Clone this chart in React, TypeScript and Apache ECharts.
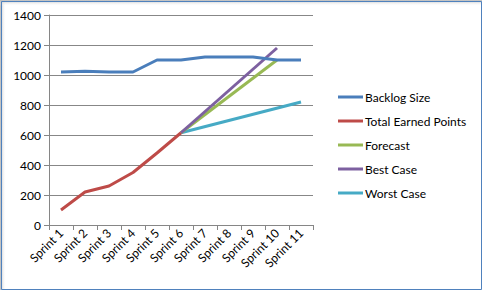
import React, { useEffect, useRef } from "react";
import * as echarts from "echarts";

const categories = ["Sprint 1", "Sprint 2", "Sprint 3", "Sprint 4", "Sprint 5", "Sprint 6", "Sprint 7", "Sprint 8", "Sprint 9", "Sprint 10", "Sprint 11"];
const backlogSize = [1020, 1025, 1020, 1020, 1100, 1100, 1120, 1120, 1120, 1100, 1100];
const totalEarned = [100, 220, 260, 350, 480, 615, null, null, null, null, null];
const forecast = [null, null, null, null, null, 615, null, null, null, 1100, null];
const bestCase = [null, null, null, null, null, 615, null, null, null, 1180, null];
const worstCase = [null, null, null, null, null, 615, null, null, null, null, 820];
const yTicks = { min: 0, max: 1400, interval: 200 };

const FONT = "Lato";

export default function App() {
  const ref = useRef<HTMLDivElement>(null);
  useEffect(() => {
    const chart = echarts.init(ref.current!, null, { renderer: "svg" });
    const mk = (name: string, data: (number | null)[], color: string, z: number) => ({
      name,
      type: "line",
      data,
      connectNulls: true,
      showSymbol: false,
      symbol: "none",
      z,
      lineStyle: { color, width: 3 },
      itemStyle: { color },
    });
    chart.setOption({
      animation: false,
      backgroundColor: "#ffffff",
      textStyle: { fontFamily: FONT },
      grid: { left: 49, right: 178, top: 15, bottom: 79 },
      xAxis: {
        type: "category",
        data: categories,
        boundaryGap: true,
        axisLine: { show: true, lineStyle: { color: "#868686", width: 1 } },
        axisTick: { show: true, length: 5, alignWithLabel: false, lineStyle: { color: "#868686" } },
        axisLabel: { rotate: 45, color: "#000", fontFamily: FONT, fontSize: 12, margin: 6, interval: 0 },
        splitLine: { show: false },
      },
      yAxis: {
        type: "value",
        min: yTicks.min,
        max: yTicks.max,
        interval: yTicks.interval,
        axisLine: { show: true, lineStyle: { color: "#868686", width: 1 } },
        axisTick: { show: true, length: 5, lineStyle: { color: "#868686" } },
        axisLabel: { color: "#000", fontFamily: FONT, fontSize: 12, margin: 8, formatter: (v: number) => String(v) },
        splitLine: { show: true, lineStyle: { color: "#878787", width: 1 } },
      },
      legend: {
        orient: "vertical",
        left: 333,
        top: 85,
        icon: "rect",
        itemWidth: 25,
        itemHeight: 3,
        itemGap: 10,
        textStyle: { color: "#000", fontFamily: FONT, fontSize: 12, lineHeight: 14, padding: [0, 0, 0, -3] },
        data: ["Backlog Size", "Total Earned Points", "Forecast", "Best Case", "Worst Case"],
      },
      graphic: [
        { type: "rect", shape: { x: 0, y: 0, width: 6, height: 290 }, silent: true,
          style: { fill: new echarts.graphic.LinearGradient(0, 0, 1, 0, [{ offset: 0, color: "#b8b8b8" }, { offset: 1, color: "rgba(255,255,255,0)" }]) } },
        { type: "rect", shape: { x: 0, y: 0, width: 482, height: 6 }, silent: true,
          style: { fill: new echarts.graphic.LinearGradient(0, 0, 0, 1, [{ offset: 0, color: "#b8b8b8" }, { offset: 1, color: "rgba(255,255,255,0)" }]) } },
        { type: "rect", shape: { x: 1.5, y: 1.5, width: 480, height: 288 }, silent: true,
          style: { fill: "none", stroke: "#4f81bd", lineWidth: 1 } },
      ],
      series: [
        mk("Backlog Size", backlogSize, "#4a7ebb", 5),
        mk("Total Earned Points", totalEarned, "#be4b48", 4),
        mk("Forecast", forecast, "#98b954", 3),
        mk("Best Case", bestCase, "#7d60a0", 3),
        mk("Worst Case", worstCase, "#46aac5", 2),
      ],
    });
    return () => chart.dispose();
  }, []);
  return <div ref={ref} style={{ position: "fixed", left: 0, top: 0, width: 491, height: 304 }} />;
}
